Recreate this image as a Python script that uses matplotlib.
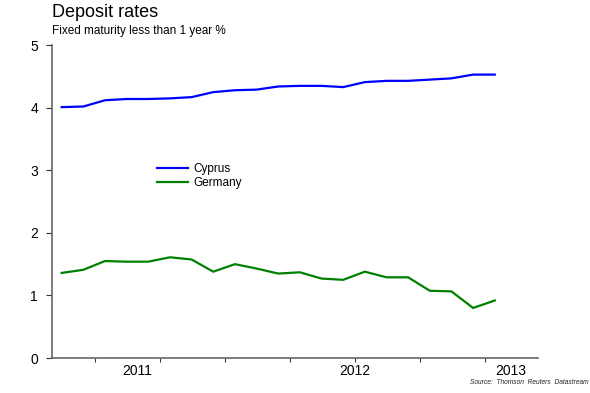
import numpy as np
import matplotlib
matplotlib.use("Agg")
from matplotlib import pyplot as plt

plt.rcParams['font.family'] = ['Liberation Sans', 'DejaVu Sans']

# monthly observations, 21 points
cyprus = [4.01, 4.02, 4.12, 4.14, 4.14, 4.15, 4.17, 4.25, 4.28, 4.29, 4.34,
          4.35, 4.35, 4.33, 4.41, 4.43, 4.43, 4.45, 4.47, 4.53, 4.53]
germany = [1.36, 1.41, 1.55, 1.54, 1.54, 1.61, 1.575, 1.38, 1.50, 1.43, 1.35,
           1.37, 1.27, 1.25, 1.38, 1.29, 1.29, 1.075, 1.065, 0.80, 0.92]
year_labels = ['2011', '2012', '2013']
year_pos = [3.48, 13.55, 20.75]
quarter_ticks = np.arange(1.55, 21, 3)

x = np.arange(len(cyprus))

fig = plt.figure(figsize=(5.9, 3.93), dpi=100)
ax = fig.add_axes([0.088, 0.089, 0.824, 0.796])

ax.plot(x, cyprus, color='#0000ff', lw=1.6, label='Cyprus')
ax.plot(x, germany, color='#008000', lw=1.6, label='Germany')

ax.set_xlim(-0.45, 22.0)
ax.set_ylim(0, 5)
ax.set_yticks(range(0, 6))
ax.xaxis.remove_overlapping_locs = False
ax.set_xticks(quarter_ticks)
ax.set_xticklabels([])
ax.set_xticks(year_pos, minor=True)
ax.set_xticklabels(year_labels, minor=True)
ax.tick_params(axis='x', which='minor', length=0, pad=4, labelsize=10)
ax.tick_params(axis='x', which='major', length=3, width=0.8, color='#333333', direction='out')
ax.tick_params(axis='y', length=4, width=0.8, color='#333333', pad=6, labelsize=10)

for s in ['top', 'right']:
    ax.spines[s].set_visible(False)
for s in ['left', 'bottom']:
    ax.spines[s].set_color('#666666')
    ax.spines[s].set_linewidth(1.2)

ax.legend(loc='upper left', bbox_to_anchor=(0.194, 0.658), frameon=False,
          fontsize=8.5, handlelength=2.6, handletextpad=0.5, labelspacing=0.2)

fig.text(0.088, 0.968, 'Deposit rates', fontsize=13, va='center', ha='left')
fig.text(0.088, 0.921, 'Fixed maturity less than 1 year %', fontsize=8.5, va='center', ha='left')
fig.text(0.997, 0.026, 'Source:  Thomson  Reuters  Datastream', fontsize=4.8,
          style='italic', ha='right', va='center', color='#222222')

fig.savefig('out.png', dpi=100)
